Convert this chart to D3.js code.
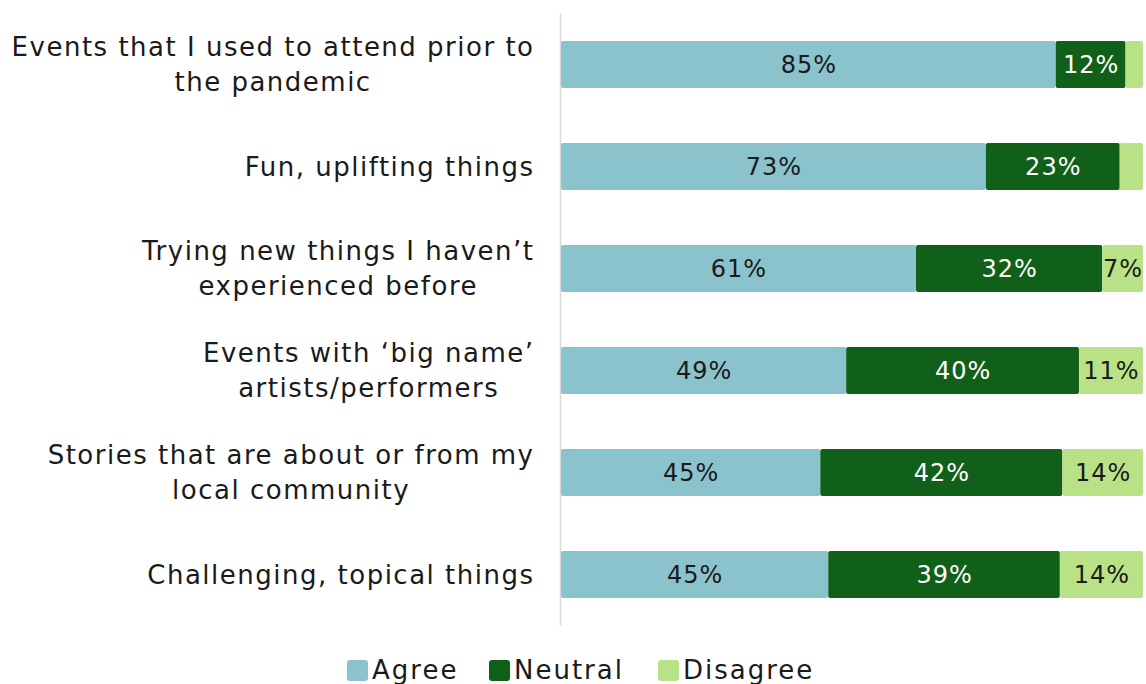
<!DOCTYPE html>
<html><head><meta charset="utf-8">
<script src="https://cdn.jsdelivr.net/npm/d3@7"></script>
<style>
html,body{margin:0;padding:0;background:#fff;}
svg{display:block;font-family:"DejaVu Sans",sans-serif;}
</style></head>
<body><svg id="chart" width="1146" height="684"></svg>
<script>
const categories = [
  ["Events that I used to attend prior to", "the pandemic"],
  ["Fun, uplifting things"],
  ["Trying new things I haven’t", "experienced before"],
  ["Events with ‘big name’", "artists/performers"],
  ["Stories that are about or from my", "local community"],
  ["Challenging, topical things"]
];
const seriesNames = ["Agree", "Neutral", "Disagree"];
const agree    = [85, 73, 61, 49, 45, 45];
const neutral  = [12, 23, 32, 40, 42, 39];
const disagree = [3, 4, 7, 11, 14, 14];
const colors = ["#8bc3cc", "#116019", "#b9e287"];
const labelColors = ["#1a1a1a", "#ffffff", "#1a1a1a"];

const svg = d3.select("#chart");
const W = 1146, H = 684;
const margin = {left: 561, right: 3, top: 13.5, bottom: 58.5};

const rows = categories.map((c, i) => ({idx: i, Agree: agree[i], Neutral: neutral[i], Disagree: disagree[i]}));
const stack = d3.stack().keys(seriesNames).offset(d3.stackOffsetExpand);
const stacked = stack(rows);

const x = d3.scaleLinear().domain([0, 1]).range([margin.left, W - margin.right]);
const y = d3.scaleBand().domain(d3.range(categories.length)).range([margin.top, H - margin.bottom]).paddingInner(0.54).paddingOuter(0.27);

svg.append("line").attr("x1", margin.left - 0.5).attr("x2", margin.left - 0.5)
  .attr("y1", margin.top).attr("y2", H - margin.bottom).attr("stroke", "#d9d9d9").attr("stroke-width", 1.5);

const valLS = 1;
const g = svg.append("g");
stacked.forEach((s, si) => {
  g.selectAll(null).data(s).enter().append("rect")
    .attr("x", d => x(d[0]))
    .attr("y", d => y(d.data.idx))
    .attr("width", d => Math.max(0, x(d[1]) - x(d[0])))
    .attr("height", y.bandwidth())
    .attr("rx", 2)
    .attr("fill", colors[si]);
  g.selectAll(null).data(s.filter(d => d.data[s.key] >= 5)).enter().append("text")
    .attr("x", d => (x(d[0]) + x(d[1])) / 2 + valLS / 2)
    .attr("y", d => y(d.data.idx) + y.bandwidth() / 2)
    .attr("text-anchor", "middle").attr("dominant-baseline", "central")
    .attr("font-size", 24).attr("letter-spacing", valLS).attr("fill", labelColors[si])
    .text(d => d.data[s.key] + "%");
});

const labelRight = 533, lineH = 35.5, catSize = 26, catLS = 1.5;
categories.forEach((lines, i) => {
  const t = svg.append("text").attr("font-size", catSize).attr("letter-spacing", catLS)
    .attr("fill", "#1a1a1a").attr("text-anchor", "middle");
  const cy = y(i) + y.bandwidth() / 2;
  const spans = lines.map((ln, j) => t.append("tspan").text(ln)
      .attr("y", cy + (j - (lines.length - 1) / 2) * lineH).attr("dominant-baseline", "central"));
  const maxW = d3.max(spans, s => s.node().getComputedTextLength()) - catLS;
  spans.forEach(s => s.attr("x", labelRight - maxW / 2 + catLS / 2));
});

const legendBase = 679;
const legendX = [347, 489, 658];
seriesNames.forEach((n, i) => {
  svg.append("rect").attr("x", legendX[i]).attr("y", 660).attr("width", 21).attr("height", 21)
    .attr("rx", 3).attr("fill", colors[i]);
  svg.append("text").attr("x", legendX[i] + 25).attr("y", legendBase)
    .attr("font-size", 26).attr("letter-spacing", 2).attr("fill", "#1a1a1a").text(n);
});
</script></body></html>
